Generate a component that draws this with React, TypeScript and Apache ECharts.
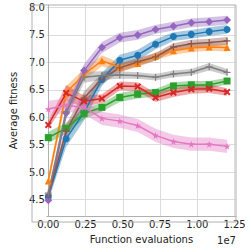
import React, { useEffect, useRef } from "react";
import * as echarts from "echarts";

const evaluations = [0, 1.2e6, 2.4e6, 3.6e6, 4.8e6, 6.0e6, 7.2e6, 8.4e6, 9.6e6, 10.8e6, 12.0e6];
const xTicks = [0, 2.5e6, 5e6, 7.5e6, 10e6, 12.5e6];
const yTicks = [4.5, 5.0, 5.5, 6.0, 6.5, 7.0, 7.5, 8.0];

const blueMean = [4.55, 5.61, 6.09, 6.69, 7.04, 7.13, 7.33, 7.47, 7.51, 7.56, 7.6];
const blueSpread = [0.08, 0.15, 0.15, 0.12, 0.1, 0.1, 0.09, 0.08, 0.08, 0.08, 0.08];
const orangeMean = [4.84, 6.45, 6.78, 7.03, 6.91, 6.98, 7.11, 7.21, 7.26, 7.28, 7.27];
const orangeSpread = [0.1, 0.12, 0.1, 0.1, 0.08, 0.07, 0.07, 0.07, 0.07, 0.07, 0.07];
const greenMean = [5.63, 5.8, 6.07, 6.18, 6.36, 6.42, 6.45, 6.57, 6.59, 6.59, 6.66];
const greenSpread = [0.1, 0.1, 0.1, 0.08, 0.08, 0.08, 0.07, 0.07, 0.07, 0.07, 0.06];
const redMean = [5.86, 6.44, 6.29, 6.34, 6.57, 6.56, 6.36, 6.45, 6.51, 6.52, 6.46];
const redSpread = [0.08, 0.15, 0.1, 0.08, 0.08, 0.08, 0.08, 0.08, 0.08, 0.08, 0.07];
const purpleMean = [4.49, 6.08, 6.85, 7.27, 7.45, 7.5, 7.6, 7.66, 7.72, 7.74, 7.77];
const purpleSpread = [0.03, 0.12, 0.12, 0.1, 0.09, 0.09, 0.08, 0.08, 0.08, 0.08, 0.08];
const brownMean = [4.58, 5.75, 6.35, 6.7, 6.9, 7.01, 7.1, 7.28, 7.34, 7.36, 7.39];
const brownSpread = [0.05, 0.12, 0.12, 0.1, 0.08, 0.07, 0.07, 0.07, 0.07, 0.07, 0.07];
const pinkMean = [6.15, 6.22, 6.18, 5.98, 5.93, 5.85, 5.67, 5.56, 5.51, 5.51, 5.47];
const pinkSpread = [0.15, 0.12, 0.12, 0.12, 0.12, 0.12, 0.12, 0.12, 0.12, 0.12, 0.12];
const grayMean = [4.62, 6.1, 6.73, 6.76, 6.77, 6.76, 6.73, 6.79, 6.82, 6.92, 6.82];
const graySpread = [0.05, 0.12, 0.1, 0.08, 0.07, 0.06, 0.06, 0.06, 0.06, 0.07, 0.06];

const PLUS = "path://M4.1,0 H5.9 V4.1 H10 V5.9 H5.9 V10 H4.1 V5.9 H0 V4.1 H4.1 Z";
const XMARK = "path://M2,0 L5,3 L8,0 L10,2 L7,5 L10,8 L8,10 L5,7 L2,10 L0,8 L3,5 L0,2 Z";
const STAR = "path://M5,0 L6.2,3.6 L10,3.6 L6.9,5.9 L8.1,9.5 L5,7.3 L1.9,9.5 L3.1,5.9 L0,3.6 L3.8,3.6 Z";

const groups = [
  { name: "blue", mean: blueMean, spread: blueSpread, color: "#1f77b4", symbol: "circle", size: 7 },
  { name: "orange", mean: orangeMean, spread: orangeSpread, color: "#ff7f0e", symbol: "triangle", size: 7 },
  { name: "green", mean: greenMean, spread: greenSpread, color: "#2ca02c", symbol: "rect", size: 7 },
  { name: "red", mean: redMean, spread: redSpread, color: "#d62728", symbol: XMARK, size: 7 },
  { name: "purple", mean: purpleMean, spread: purpleSpread, color: "#9467bd", symbol: "diamond", size: 8 },
  { name: "brown", mean: brownMean, spread: brownSpread, color: "#8c564b", symbol: PLUS, size: 7 },
  { name: "pink", mean: pinkMean, spread: pinkSpread, color: "#e377c2", symbol: STAR, size: 7 },
  { name: "gray", mean: grayMean, spread: graySpread, color: "#7f7f7f", symbol: PLUS, size: 7 },
];

export default function App() {
  const ref = useRef<HTMLDivElement>(null);
  useEffect(() => {
    if (!ref.current) return;
    const chart = echarts.init(ref.current, undefined, { renderer: "svg" });
    const series: any[] = [];
    groups.forEach((g) => {
      const bandData = evaluations.map((x, i) => [x, g.mean[i] - g.spread[i], g.mean[i] + g.spread[i]]);
      series.push({
        type: "custom",
        name: g.name + "-band",
        data: bandData,
        encode: { x: 0, y: [1, 2] },
        silent: true,
        z: 1,
        renderItem: (params: any, api: any) => {
          if (params.dataIndex !== 0) return null;
          const upper = bandData.map((d) => api.coord([d[0], d[2]]));
          const lower = bandData.map((d) => api.coord([d[0], d[1]])).reverse();
          return {
            type: "polygon",
            shape: { points: upper.concat(lower) },
            style: { fill: g.color, opacity: 0.4 },
          };
        },
      });
    });
    groups.forEach((g) => {
      series.push({
        type: "line",
        name: g.name,
        data: evaluations.map((x, i) => [x, g.mean[i]]),
        symbol: g.symbol,
        symbolSize: g.size,
        showAllSymbol: true,
        itemStyle: { color: g.color },
        lineStyle: { color: g.color, width: 1.5 },
        z: 3,
      });
    });
    chart.setOption({
      animation: false,
      backgroundColor: "#ffffff",
      grid: { left: 32, right: 13, top: 5, bottom: 27, containLabel: false },
      xAxis: {
        type: "value",
        min: -0.01e7,
        max: 1.26e7,
        name: "Function evaluations",
        nameLocation: "middle",
        nameGap: 12,
        nameTextStyle: { fontFamily: "DejaVu Sans", fontSize: 10, color: "#222" },
        axisLine: { show: true, lineStyle: { color: "#b0b0b0", width: 1 } },
        axisTick: { show: false, customValues: xTicks },
        axisLabel: {
          customValues: xTicks,
          formatter: (v: number) => (v / 1e7).toFixed(2),
          fontFamily: "DejaVu Sans",
          fontSize: 10,
          color: "#222",
          margin: 3,
        },
        splitLine: { show: true, lineStyle: { color: "#dcdcdc", width: 1 } },
      },
      yAxis: {
        type: "value",
        min: 4.2,
        max: 8.045,
        name: "Average fitness",
        nameLocation: "middle",
        nameGap: 20,
        nameTextStyle: { fontFamily: "DejaVu Sans", fontSize: 10, color: "#222" },
        axisLine: { show: true, lineStyle: { color: "#b0b0b0", width: 1 } },
        axisTick: { show: false, customValues: yTicks },
        axisLabel: {
          customValues: yTicks,
          formatter: (v: number) => v.toFixed(1),
          fontFamily: "DejaVu Sans",
          fontSize: 10,
          color: "#222",
          margin: 2,
        },
        splitLine: { show: true, lineStyle: { color: "#dcdcdc", width: 1 } },
      },
      graphic: [
        {
          type: "rect",
          shape: { x: 32, y: 5, width: 204, height: 217 },
          style: { fill: null, stroke: "#b0b0b0", lineWidth: 1 },
          silent: true,
          z: 10,
        },
        {
          type: "text",
          x: 236,
          y: 240,
          style: {
            text: "1e7",
            fontFamily: "DejaVu Sans",
            fontSize: 10,
            fill: "#222",
            align: "right",
            verticalAlign: "middle",
          },
        },
      ],
      series,
    });
    return () => chart.dispose();
  }, []);
  return (
    <div
      ref={ref}
      style={{ position: "fixed", left: 0, top: 0, width: 249, height: 249, background: "#fff" }}
    />
  );
}
